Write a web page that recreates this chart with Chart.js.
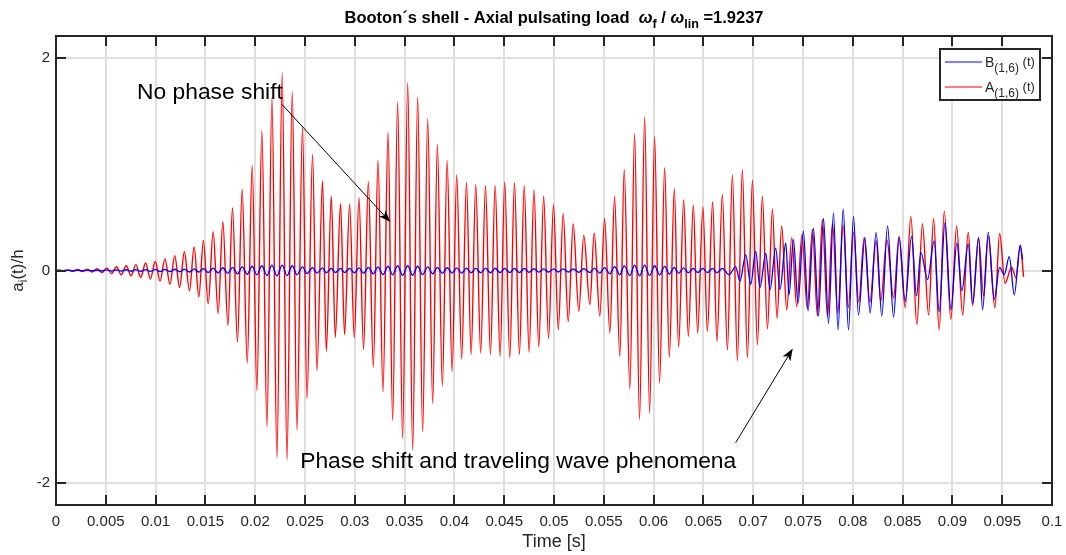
<!DOCTYPE html>
<html><head><meta charset="utf-8">
<script src="https://cdn.jsdelivr.net/npm/chart.js@4"></script>
<style>html,body{margin:0;padding:0;background:#fff;overflow:hidden}canvas{display:block}</style>
</head><body>
<canvas id="c" width="1066" height="555"></canvas>
<script>
// ---------- tick labels ----------
const xTickValues = [0,0.005,0.01,0.015,0.02,0.025,0.03,0.035,0.04,0.045,0.05,0.055,0.06,0.065,0.07,0.075,0.08,0.085,0.09,0.095,0.1];
const xTickLabels = ['0','0.005','0.01','0.015','0.02','0.025','0.03','0.035','0.04','0.045','0.05','0.055','0.06','0.065','0.07','0.075','0.08','0.085','0.09','0.095','0.1'];
const yTickValues = [-2,0,2];
const yTickLabels = ['-2','0','2'];

// ---------- series A(1,6)(t): extrema (time in ms, value a/h) ----------
const timeA_ms = [0,0.22,0.70,1.20,1.68,2.17,2.66,3.15,3.64,4.12,
4.61,5.10,5.58,6.07,6.55,7.05,7.54,8.02,8.50,9.00,
9.48,9.97,10.45,10.94,11.44,11.92,12.41,12.89,13.40,13.87,
14.34,14.80,15.28,15.78,16.28,16.75,17.26,17.72,18.22,18.69,
19.20,19.70,20.17,20.67,21.18,21.68,22.18,22.71,23.19,23.72,
24.19,24.75,25.20,25.76,26.20,26.76,27.14,27.64,28.04,28.57,
28.97,29.48,29.95,30.42,30.88,31.36,31.86,32.33,32.83,33.34,
33.80,34.30,34.80,35.31,35.81,36.31,36.81,37.32,37.82,38.29,
38.79,39.27,39.77,40.23,40.73,41.21,41.68,42.14,42.64,43.12,
43.62,44.09,44.59,45.05,45.56,46.03,46.53,47.01,47.50,47.99,
48.47,48.96,49.45,49.95,50.43,50.92,51.43,51.93,52.49,52.99,
53.60,54.04,54.60,55.08,55.61,56.08,56.61,57.05,57.62,58.09,
58.59,59.10,59.60,60.10,60.60,61.11,61.58,62.08,62.51,63.02,
63.49,63.99,64.42,64.95,65.40,65.93,66.36,66.90,67.41,67.91,
68.41,68.91,69.42,69.92,70.42,70.92,71.43,71.93,72.39,72.86,
73.37,73.87,74.37,74.90,75.43,75.95,76.45,76.95,77.46,77.96,
78.49,79.03,79.55,80.07,80.60,81.14,81.71,82.34,82.81,83.42,
84.09,84.65,85.26,85.83,86.43,86.99,87.61,88.11,88.67,89.18,
89.85,90.42,91.03,91.59,92.03,92.63,93.13,93.60,94.27,94.74,
95.28,95.95,96.38,96.81,97.15];
const seriesA = [0,0.004,-0.004,0.006,-0.007,0.010,-0.010,0.013,-0.014,0.017,
-0.02,0.025,-0.03,0.035,-0.04,0.045,-0.05,0.055,-0.065,0.07,
-0.08,0.085,-0.10,0.11,-0.13,0.14,-0.16,0.176,-0.19,0.223,
-0.25,0.283,-0.314,0.365,-0.406,0.462,-0.519,0.591,-0.676,0.764,
-0.871,0.991,-1.132,1.321,-1.475,1.629,-1.767,1.865,-1.789,1.686,
-1.506,1.355,-1.208,1.094,-0.943,0.843,-0.761,0.701,-0.629,0.629,
-0.604,0.625,-0.635,0.686,-0.745,0.836,-0.912,1.04,-1.145,1.305,
-1.415,1.588,-1.585,1.77,-1.695,1.635,-1.52,1.43,-1.255,1.189,
-1.09,1.038,-0.953,0.90,-0.833,0.833,-0.79,0.808,-0.777,0.80,
-0.79,0.80,-0.81,0.833,-0.82,0.827,-0.79,0.80,-0.77,0.76,
-0.72,0.70,-0.64,0.62,-0.56,0.538,-0.484,0.44,-0.384,0.33,
-0.32,0.355,-0.43,0.49,-0.588,0.695,-0.808,0.953,-1.12,1.289,
-1.405,1.45,-1.343,1.26,-1.06,0.969,-0.818,0.77,-0.72,0.664,
-0.62,0.616,-0.588,0.60,-0.572,0.648,-0.667,0.72,-0.75,0.90,
-0.85,0.95,-0.82,0.85,-0.70,0.70,-0.55,0.58,-0.45,0.42,
-0.37,0.31,-0.34,0.34,-0.36,0.39,-0.43,0.48,-0.44,0.45,
-0.40,0.43,-0.35,0.36,-0.30,0.31,-0.30,0.28,-0.29,0.29,
-0.26,0.32,-0.35,0.51,-0.51,0.44,-0.42,0.49,-0.56,0.56,
-0.46,0.42,-0.42,0.36,-0.33,0.31,-0.24,0.32,-0.35,0.35,
-0.12,0.03,-0.07,0.23,-0.06];

// ---------- series B(1,6)(t) ----------
const timeB_early_ms = timeA_ms.slice(0,137);   // in phase with A up to ~66 ms
const timeB_late_ms = [66.90,67.57,68.24,68.67,69.25,69.75,70.25,70.68,71.26,71.69,
72.26,72.69,73.27,73.60,74.04,74.50,75.04,75.51,76.05,76.55,
77.06,77.56,78.06,78.52,79.03,79.57,80.07,80.57,81.21,81.74,
82.34,82.91,83.49,84.09,84.65,85.26,85.90,86.40,86.83,87.51,
88.17,88.67,89.25,89.85,90.45,90.95,91.59,92.03,92.63,93.03,
93.60,94.20,94.74,95.21,95.71,96.21,96.81,97.05];
const seriesB_early = [0,
0.002,-0.002,0.003,-0.003,0.003,-0.003,0.004,-0.004,0.004,-0.004,
0.005,-0.005,0.006,-0.006,0.007,-0.007,0.008,-0.008,0.009,-0.009,0.01,-0.01,0.011,-0.011,0.012,-0.012,
0.013,-0.014,0.015,-0.016,0.018,-0.02,0.022,-0.024,0.026,-0.028,0.03,-0.032,
0.034,-0.036,0.04,-0.042,0.045,-0.048,0.05,-0.05,0.05,-0.048,0.045,-0.04,0.035,-0.03,0.028,-0.025,0.025,
-0.022,0.02,-0.02,0.02,-0.02,0.02,-0.022,0.025,-0.028,0.03,
-0.032,0.035,-0.038,0.04,-0.042,0.045,-0.045,0.045,-0.045,0.04,-0.038,0.035,-0.032,0.03,-0.028,0.026,
-0.025,0.024,-0.024,0.023,-0.023,0.022,-0.022,0.022,-0.022,0.021,-0.021,0.02,-0.02,0.02,-0.02,0.02,-0.018,0.018,-0.016,0.016,-0.015,0.015,-0.015,0.015,-0.016,0.016,-0.017,0.018,
-0.02,0.022,-0.025,0.028,-0.032,0.036,-0.04,0.044,-0.048,0.05,-0.05,0.05,-0.048,0.045,-0.042,0.038,-0.034,0.03,-0.028,0.025,-0.022,0.02,-0.02,0.02,-0.02,0.02,-0.022];
const seriesB_late = [0.02,-0.04,0.035,-0.10,0.15,-0.13,0.18,-0.16,0.16,-0.18,
0.21,-0.18,0.26,-0.23,0.29,-0.31,0.37,-0.38,0.40,-0.43,
0.49,-0.50,0.54,-0.56,0.58,-0.56,0.51,-0.42,0.31,-0.40,
0.36,-0.43,0.42,-0.44,0.31,-0.29,0.32,-0.24,0.17,-0.085,
0.28,-0.39,0.45,-0.37,0.26,-0.19,0.25,-0.31,0.31,-0.37,
0.36,-0.27,0.03,-0.04,0.13,-0.23,0.24,0.10];

const seriesNames = ['B', 'A'];
const seriesSub = ['(1,6)', '(1,6)'];
const seriesColors = ['#0000ff', '#ff0000'];

// annotations (text / arrows) in data coordinates
const notes = [
  {text: 'No phase shift', t: 0.00814, v: 1.618},
  {text: 'Phase shift and traveling wave phenomena', t: 0.02452, v: -1.858}
];
const arrows = [
  {t1: 0.02268, v1: 1.566, t2: 0.03357, v2: 0.456},
  {t1: 0.06824, v1: -1.623, t2: 0.07397, v2: -0.736}
];

// ---------- helpers ----------
const FONT = "'Liberation Sans', Arial, Helvetica, sans-serif";
const INK = '#262626';

function toPoints(t, v) {
  const n = Math.min(t.length, v.length), out = [];
  for (let i = 0; i < n; i++) out.push({x: t[i] / 1000, y: v[i]});
  return out;
}
function richWidth(ctx, segs) {
  let w = 0;
  for (const s of segs) { ctx.font = s.f; w += ctx.measureText(s.t).width; }
  return w;
}
function drawRich(ctx, segs, x, y, align) {
  const w = richWidth(ctx, segs);
  let cx = align === 'center' ? x - w / 2 : (align === 'right' ? x - w : x);
  ctx.textAlign = 'left'; ctx.textBaseline = 'alphabetic';
  for (const s of segs) {
    ctx.font = s.f;
    ctx.fillText(s.t, cx, y + (s.dy || 0));
    cx += ctx.measureText(s.t).width;
  }
}

const decorPlugin = {
  id: 'decor',
  afterDraw(chart) {
    const ctx = chart.ctx, a = chart.chartArea;
    const xs = chart.scales.x, ys = chart.scales.y;
    ctx.save();
    // annotations
    ctx.fillStyle = '#000';
    ctx.font = '22.8px ' + FONT;
    ctx.textAlign = 'left'; ctx.textBaseline = 'alphabetic';
    for (const n of notes) ctx.fillText(n.text, xs.getPixelForValue(n.t), ys.getPixelForValue(n.v));
    ctx.strokeStyle = '#000'; ctx.lineWidth = 1;
    for (const ar of arrows) {
      const x1 = xs.getPixelForValue(ar.t1), y1 = ys.getPixelForValue(ar.v1);
      const x2 = xs.getPixelForValue(ar.t2), y2 = ys.getPixelForValue(ar.v2);
      const ang = Math.atan2(y2 - y1, x2 - x1);
      const L = 12, W = 4.5, back = 9;
      ctx.beginPath(); ctx.moveTo(x1, y1);
      ctx.lineTo(x2 - Math.cos(ang) * back, y2 - Math.sin(ang) * back); ctx.stroke();
      ctx.beginPath();
      ctx.moveTo(x2, y2);
      ctx.lineTo(x2 - Math.cos(ang) * L + Math.sin(ang) * W, y2 - Math.sin(ang) * L - Math.cos(ang) * W);
      ctx.lineTo(x2 - Math.cos(ang) * back, y2 - Math.sin(ang) * back);
      ctx.lineTo(x2 - Math.cos(ang) * L - Math.sin(ang) * W, y2 - Math.sin(ang) * L + Math.cos(ang) * W);
      ctx.closePath(); ctx.fillStyle = '#000'; ctx.fill();
    }
    // frame + inward ticks
    ctx.strokeStyle = INK; ctx.lineWidth = 2;
    ctx.strokeRect(a.left, a.top, a.right - a.left, a.bottom - a.top);
    ctx.beginPath();
    for (const v of xTickValues) {
      const px = Math.round(xs.getPixelForValue(v));
      ctx.moveTo(px, a.bottom); ctx.lineTo(px, a.bottom - 10);
      ctx.moveTo(px, a.top); ctx.lineTo(px, a.top + 10);
    }
    for (const v of yTickValues) {
      const py = Math.round(ys.getPixelForValue(v));
      ctx.moveTo(a.left, py); ctx.lineTo(a.left + 10, py);
      ctx.moveTo(a.right, py); ctx.lineTo(a.right - 10, py);
    }
    ctx.stroke();
    // legend
    const lx = a.right - 112, ly = a.top + 13, lw = 100, lh = 51;
    ctx.fillStyle = '#fff'; ctx.fillRect(lx, ly, lw, lh);
    ctx.strokeStyle = INK; ctx.lineWidth = 2; ctx.strokeRect(lx, ly, lw, lh);
    for (let i = 0; i < 2; i++) {
      const yy = ly + 13 + i * 25;
      ctx.strokeStyle = seriesColors[i]; ctx.lineWidth = 1.2;
      ctx.beginPath(); ctx.moveTo(lx + 5, yy); ctx.lineTo(lx + 42, yy); ctx.stroke();
      ctx.fillStyle = INK;
      drawRich(ctx, [
        {t: seriesNames[i], f: '14px ' + FONT, dy: 0},
        {t: seriesSub[i], f: '12px ' + FONT, dy: 5},
        {t: ' (t)', f: '13px ' + FONT, dy: -1}
      ], lx + 45, yy + 5, 'left');
    }
    // title
    ctx.fillStyle = '#000';
    const B = 'bold 16.5px ' + FONT, BS = 'bold 12.5px ' + FONT, BI = 'italic bold 16.5px ' + FONT;
    drawRich(ctx, [
      {t: 'Booton´s shell - Axial pulsating load  ', f: B},
      {t: 'ω', f: BI}, {t: 'f', f: BS, dy: 5},
      {t: ' / ', f: B},
      {t: 'ω', f: BI}, {t: 'lin', f: BS, dy: 5},
      {t: ' =1.9237', f: B}
    ], (a.left + a.right) / 2, 22.5, 'center');
    // y-axis title
    ctx.translate(18, (a.top + a.bottom) / 2);
    ctx.rotate(-Math.PI / 2);
    ctx.fillStyle = INK;
    drawRich(ctx, [
      {t: 'a', f: '17px ' + FONT},
      {t: 'i', f: '12px ' + FONT, dy: 4},
      {t: '(t)/h', f: '17px ' + FONT}
    ], 0, 5, 'center');
    ctx.restore();
  }
};

new Chart(document.getElementById('c').getContext('2d'), {
  type: 'line',
  data: {
    datasets: [
      {label: 'B(1,6) (t)', data: toPoints(timeB_early_ms.concat(timeB_late_ms), seriesB_early.concat(seriesB_late)),
       borderColor: seriesColors[0], borderWidth: 1.3, pointRadius: 0, cubicInterpolationMode: 'monotone', fill: false},
      {label: 'A(1,6) (t)', data: toPoints(timeA_ms, seriesA),
       borderColor: seriesColors[1], borderWidth: 1.4, pointRadius: 0, cubicInterpolationMode: 'monotone', fill: false}
    ]
  },
  options: {
    responsive: false, animation: false, devicePixelRatio: 1,
    layout: {padding: {top: 36, right: 14, left: 0, bottom: 0}},
    plugins: {legend: {display: false}, title: {display: false}, tooltip: {enabled: false}},
    scales: {
      x: {
        type: 'linear', min: 0, max: 0.1,
        afterBuildTicks: s => { s.ticks = xTickValues.map(v => ({value: v})); },
        afterFit: s => { s.height = 50; s.paddingLeft = 0; s.paddingRight = 0; },
        grid: {color: '#dfdfdf', lineWidth: 2, drawTicks: false},
        border: {display: false},
        ticks: {padding: 8, color: INK, font: {family: FONT, size: 15}, maxRotation: 0, autoSkip: false,
                callback: (v, i) => xTickLabels[i]},
        title: {display: true, text: 'Time [s]', color: INK, font: {family: FONT, size: 18}, padding: {top: 0, bottom: 2}}
      },
      y: {
        type: 'linear', min: -2.21, max: 2.21,
        afterBuildTicks: s => { s.ticks = yTickValues.map(v => ({value: v})); },
        afterFit: s => { s.width = 56; s.paddingTop = 0; s.paddingBottom = 0; },
        grid: {color: '#dfdfdf', lineWidth: 2, drawTicks: false},
        border: {display: false},
        ticks: {padding: 6, color: INK, font: {family: FONT, size: 15}, callback: (v, i) => yTickLabels[i]}
      }
    }
  },
  plugins: [decorPlugin]
});
</script>
</body></html>
